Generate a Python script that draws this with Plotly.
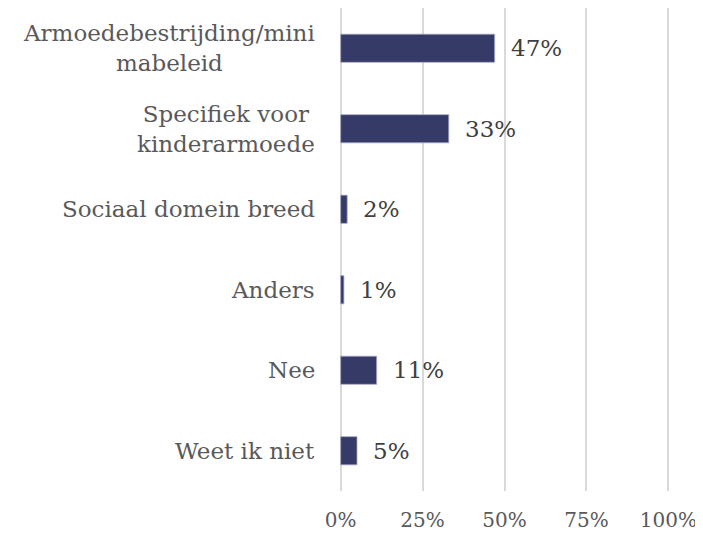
import plotly.graph_objects as go

categories = ["Armoedebestrijding/mini<br>mabeleid", "Specifiek voor<br>kinderarmoede",
              "Sociaal domein breed", "Anders", "Nee", "Weet ik niet"]
values = [0.47, 0.33, 0.02, 0.01, 0.11, 0.05]
value_labels = ["47%", "33%", "2%", "1%", "11%", "5%"]
tick_vals = [0, 0.25, 0.5, 0.75, 1.0]
tick_text = ["0%", "25%", "50%", "75%", "100%"]

FONT = "DejaVu Serif"
fig = go.Figure()
fig.add_trace(go.Bar(
    x=values, y=categories, orientation="h", width=0.35,
    marker=dict(color="#363A66", line=dict(color="#A9ACC6", width=0.8)),
    hoverinfo="skip",
))

annotations = []
for c, v, t in zip(categories, values, value_labels):
    annotations.append(dict(x=v, y=c, xref="x", yref="y", text=t, showarrow=False,
                            xanchor="left", yanchor="middle", xshift=14,
                            font=dict(family=FONT, size=23, color="#404040")))
    annotations.append(dict(x=0, y=c, xref="paper", yref="y", text=c, showarrow=False,
                            xanchor="right", yanchor="middle", align="center", xshift=-22,
                            font=dict(family=FONT, size=23, color="#595959")))

fig.update_layout(
    width=695, height=527,
    margin=dict(l=331, r=33, t=0, b=44, autoexpand=False),
    plot_bgcolor="white", paper_bgcolor="white",
    showlegend=False,
    annotations=annotations,
    xaxis=dict(range=[-0.005, 1.005], tickvals=tick_vals, ticktext=tick_text,
               showgrid=True, gridcolor="#D9D9D9", gridwidth=1.5, zeroline=False,
               showline=False, ticks="", ticklabelstandoff=15, automargin=False,
               tickfont=dict(family=FONT, size=20, color="#595959")),
    yaxis=dict(categoryorder="array", categoryarray=categories[::-1],
               showticklabels=False, showgrid=False, zeroline=False, showline=False,
               range=[-0.5, 5.5], automargin=False),
)
fig.write_html("out.html")
